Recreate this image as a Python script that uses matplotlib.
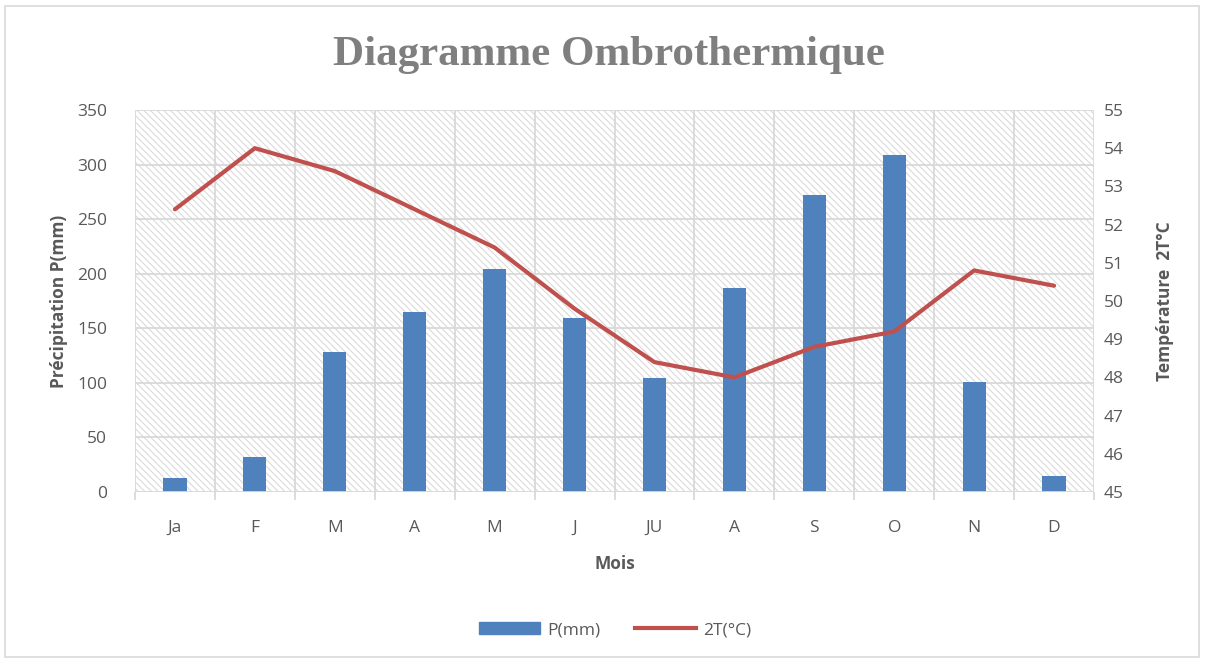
import numpy as np
import matplotlib.pyplot as plt
from matplotlib.patches import Rectangle
from matplotlib.lines import Line2D

mois = ["Ja", "F", "M", "A", "M", "J", "JU", "A", "S", "O", "N", "D"]
precip = [13, 32, 128, 165, 204, 159, 104, 187, 272, 309, 101, 15]
temp2 = [52.4, 54.0, 53.4, 52.4, 51.4, 49.8, 48.4, 48.0, 48.8, 49.2, 50.8, 50.4]

bleu = "#4f81bd"
rouge = "#c0504d"
gris = "#595959"
grille = "#d9d9d9"

plt.rcParams['font.family'] = ['Open Sans', 'DejaVu Sans']
plt.rcParams['hatch.linewidth'] = 0.8
plt.rcParams['hatch.color'] = "#dadada"

fig = plt.figure(figsize=(12.06, 6.63), dpi=100)
fig.patches.append(Rectangle((5/1206, 6/663), 1194/1206, 651/663, transform=fig.transFigure,
                             fill=False, edgecolor="#d9d9d9", lw=1.2))

ax = fig.add_axes([135/1206, 1 - 492/663, 959/1206, 382/663])
x = np.arange(len(mois))

# fond hachuré
ax.add_patch(Rectangle((0, 0), 1, 1, transform=ax.transAxes, facecolor="white",
                       edgecolor="#dadada", hatch="\\" * 5, lw=0, zorder=0))

ax.bar(x, precip, width=0.29, color=bleu, zorder=3)
ax.set_xlim(-0.5, 11.5)
ax.set_ylim(0, 350)
ax.set_yticks(range(0, 351, 50))

# grille
for yv in range(50, 351, 50):
    ax.axhline(yv, color=grille, lw=1.3, zorder=1)
for xv in np.arange(-0.5, 12, 1):
    ax.axvline(xv, color=grille, lw=1.3, zorder=1)
ax.axhline(0, color=grille, lw=1.3, zorder=4)

for s in ax.spines.values():
    s.set_visible(False)
ax.set_xticks(x)
ax.set_xticklabels(mois)
ax.set_xticks(np.arange(-0.5, 12, 1), minor=True)
ax.tick_params(axis='x', which='major', length=0, pad=20, labelsize=12.5, labelcolor=gris)
ax.tick_params(axis='x', which='minor', length=6, color=grille, width=1.3)
ax.tick_params(axis='y', length=0, pad=20, labelsize=12.5, labelcolor=gris)

ax.set_xlabel("Mois", fontsize=12.5, fontweight='bold', color=gris, labelpad=14)
ax.set_ylabel("Précipitation P(mm)", fontsize=12.5, fontweight='bold', color=gris, labelpad=7)

ax2 = ax.twinx()
ax2.plot(x, temp2, color=rouge, lw=3, solid_capstyle='round', zorder=5)
ax2.set_ylim(45, 55)
ax2.set_yticks(range(45, 56))
for s in ax2.spines.values():
    s.set_visible(False)
ax2.tick_params(axis='y', length=0, pad=7, labelsize=12.5, labelcolor=gris)
ax2.set_ylabel("Température  2T°C", fontsize=12.5, fontweight='bold', color=gris, labelpad=23)

fig.text(0.505, 1 - 55/663, "Diagramme Ombrothermique", ha='center', va='center',
         fontsize=31, fontweight='bold', color="#7f7f7f", family=['Liberation Serif', 'DejaVu Serif'])

handles = [Rectangle((0, 0), 1, 1, color=bleu), Line2D([0], [0], color=rouge, lw=3)]
fig.legend(handles, ["P(mm)", "2T(°C)"], loc='center', bbox_to_anchor=(0.51, 1 - 630/663),
           ncol=2, frameon=False, fontsize=12.5, labelcolor=gris, handlelength=3.5,
           columnspacing=2, handletextpad=0.4)

plt.savefig("out.png", dpi=100)
